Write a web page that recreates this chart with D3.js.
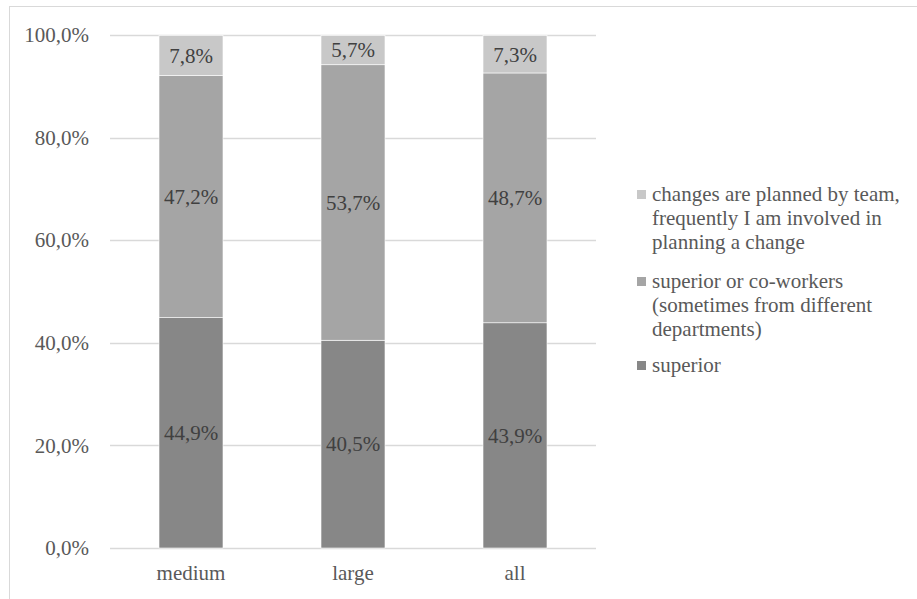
<!DOCTYPE html>
<html>
<head>
<meta charset="utf-8">
<script src="https://cdn.jsdelivr.net/npm/d3@7"></script>
<style>
  html, body { margin: 0; padding: 0; background: #fff; }
  svg { display: block; }
</style>
</head>
<body>
<svg id="chart" width="917" height="599"></svg>
<script>
// Categories and series (percent shares, bottom to top)
const categories = ["medium", "large", "all"];
const seriesNames = [
  "superior",
  "superior or co-workers (sometimes from different departments)",
  "changes are planned by team, frequently I am involved in planning a change"
];
const superior = [44.9, 40.5, 43.9];
const superiorOrCoworkers = [47.2, 53.7, 48.7];
const plannedByTeam = [7.8, 5.7, 7.3];
const yTicks = [0, 20, 40, 60, 80, 100];
const legendLines = [
  ["changes are planned by team,", "frequently I am involved in", "planning a change"],
  ["superior or co-workers", "(sometimes from different", "departments)"],
  ["superior"]
];

const colors = ["#878787", "#a5a5a5", "#c8c8c8"];
const fontFamily = '"Liberation Serif"';
const textColor = "#595959";
const fs = "21px";

// apply the chart typeface to a text selection
function typeset(sel, color) {
  sel.attr("font-family", null)
    .style("font-family", fontFamily)
    .style("font-size", fs)
    .attr("fill", color || textColor);
}

const svg = d3.select("#chart");

// chart frame
svg.append("rect")
  .attr("x", 9.5).attr("y", 6.5)
  .attr("width", 940).attr("height", 620)
  .attr("fill", "none").attr("stroke", "#d9d9d9").attr("stroke-width", 1);

const plot = { left: 110, right: 596, top: 35, bottom: 548 };

const x = d3.scaleBand()
  .domain(categories)
  .range([plot.left, plot.right])
  .paddingInner(0.605)
  .paddingOuter(0.3025);

const y = d3.scaleLinear().domain([0, 100]).range([plot.bottom, plot.top]);

// gridlines
svg.append("g")
  .selectAll("line")
  .data(yTicks)
  .join("line")
  .attr("x1", plot.left).attr("x2", plot.right)
  .attr("y1", d => Math.round(y(d)) + 0.5).attr("y2", d => Math.round(y(d)) + 0.5)
  .attr("stroke", "#d9d9d9").attr("stroke-width", 1.3);

const pct = d => d3.format(".1f")(d).replace(".", ",") + "%";

// y axis labels
const yAxis = d3.axisLeft(y)
  .tickValues(yTicks)
  .tickSize(0)
  .tickPadding(21)
  .tickFormat(pct);
const gy = svg.append("g").attr("transform", `translate(${plot.left},0)`).call(yAxis);
gy.select(".domain").remove();
gy.attr("font-family", null).attr("font-size", null);
gy.selectAll("text").call(typeset);

// x axis labels
const xAxis = d3.axisBottom(x).tickSize(0).tickPadding(17);
const gx = svg.append("g").attr("transform", `translate(0,${plot.bottom})`).call(xAxis);
gx.select(".domain").remove();
gx.attr("font-family", null).attr("font-size", null);
gx.selectAll("text").call(typeset);

// stacked data
const rows = categories.map((c, i) => ({
  cat: c,
  s0: superior[i],
  s1: superiorOrCoworkers[i],
  s2: plannedByTeam[i]
}));
const stack = d3.stack().keys(["s0", "s1", "s2"]);
const layers = stack(rows);

const gBars = svg.append("g");
layers.forEach((layer, li) => {
  const g = gBars.append("g");
  g.selectAll("rect")
    .data(layer)
    .join("rect")
    .attr("x", d => x(d.data.cat))
    .attr("width", x.bandwidth())
    .attr("y", d => y(d[1]))
    .attr("height", d => y(d[0]) - y(d[1]))
    .attr("fill", colors[li])
    .attr("stroke", "#fff")
    .attr("stroke-width", 0.6);
  g.selectAll("text")
    .data(layer)
    .join("text")
    .attr("x", d => x(d.data.cat) + x.bandwidth() / 2)
    .attr("y", d => (y(d[0]) + y(d[1])) / 2)
    .attr("dy", "0.35em")
    .attr("text-anchor", "middle")
    .call(typeset, "#404040")
    .text(d => pct(d[1] - d[0]));
});

// legend
const legend = svg.append("g");
const legendTop = [195, 282, 366];
legendLines.forEach((lines, i) => {
  const ci = 2 - i;
  const g = legend.append("g").attr("transform", `translate(637,${legendTop[i]})`);
  g.append("rect")
    .attr("x", 0).attr("y", -5).attr("width", 9).attr("height", 9)
    .attr("fill", colors[ci]);
  g.selectAll("text")
    .data(lines)
    .join("text")
    .attr("x", 15)
    .attr("y", (d, j) => j * 24)
    .attr("dy", "0.3em")
    .call(typeset)
    .text(d => d);
});
</script>
</body>
</html>
